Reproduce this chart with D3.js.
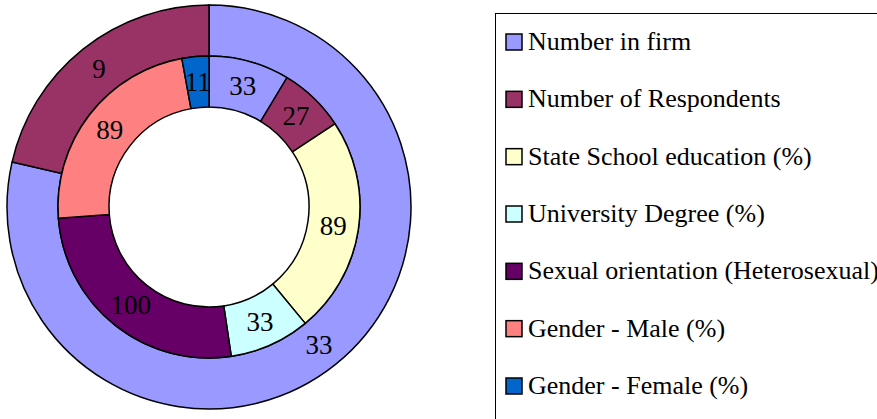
<!DOCTYPE html>
<html>
<head>
<meta charset="utf-8">
<script src="https://d3js.org/d3.v7.min.js"></script>
</head>
<body style="margin:0">
<svg id="chart" width="877" height="419">
<text x="209" y="207" font-family="Liberation Serif" font-size="26" fill-opacity="0">.</text>
</svg>
<script>
var categories = ["Number in firm", "Number of Respondents", "State School education (%)",
  "University Degree (%)", "Sexual orientation (Heterosexual)", "Gender - Male (%)",
  "Gender - Female (%)"];
var colors = ["#9999FF", "#993366", "#FFFFCC", "#CCFFFF", "#660066", "#FF8080", "#0066CC"];

// outer ring: firm size vs respondents
var outerValues = [33, 9];
// inner ring: respondent profile
var innerValues = [33, 27, 89, 33, 100, 89, 11];

var cx = 209, cy = 207;
var rHole = 100, rMid = 151, rOuter = 202;

var svg = d3.select("#chart");

var pie = d3.pie().sort(null).value(function(d) { return d; });

function ring(values, r0, r1) {
  var arc = d3.arc().innerRadius(r0).outerRadius(r1);
  var g = svg.append("g").attr("transform", "translate(" + cx + "," + cy + ")");
  var arcs = pie(values);

  g.selectAll("path")
    .data(arcs)
    .enter().append("path")
      .attr("d", arc)
      .attr("fill", function(d, i) { return colors[i]; })
      .attr("stroke", "#000")
      .attr("stroke-width", 1.5);

  g.selectAll("text")
    .data(arcs)
    .enter().append("text")
      .attr("x", function(d) { return arc.centroid(d)[0]; })
      .attr("y", function(d) { return arc.centroid(d)[1] + 9; })
      .attr("text-anchor", "middle")
      .attr("font-family", "Liberation Serif")
      .attr("font-size", 27)
      .text(function(d) { return d.data; });
}

ring(outerValues, rMid, rOuter);
ring(innerValues, rHole, rMid);

// legend
svg.append("rect")
    .attr("x", 495.5).attr("y", 13.5)
    .attr("width", 400).attr("height", 420)
    .attr("fill", "#fff")
    .attr("stroke", "#000")
    .attr("stroke-width", 1);

var rowY = d3.scaleLinear().domain([0, categories.length - 1]).range([42, 386]);

svg.selectAll("rect.swatch")
    .data(categories)
    .enter().append("rect")
      .attr("class", "swatch")
      .attr("x", 506)
      .attr("y", function(d, i) { return rowY(i) - 8; })
      .attr("width", 16).attr("height", 16)
      .attr("fill", function(d, i) { return colors[i]; })
      .attr("stroke", "#000")
      .attr("stroke-width", 1.5);

svg.selectAll("text.label")
    .data(categories)
    .enter().append("text")
      .attr("class", "label")
      .attr("x", 528)
      .attr("y", function(d, i) { return rowY(i) + 8; })
      .attr("font-family", "Liberation Serif")
      .attr("font-size", 26)
      .text(function(d) { return d; });
</script>
</body>
</html>
